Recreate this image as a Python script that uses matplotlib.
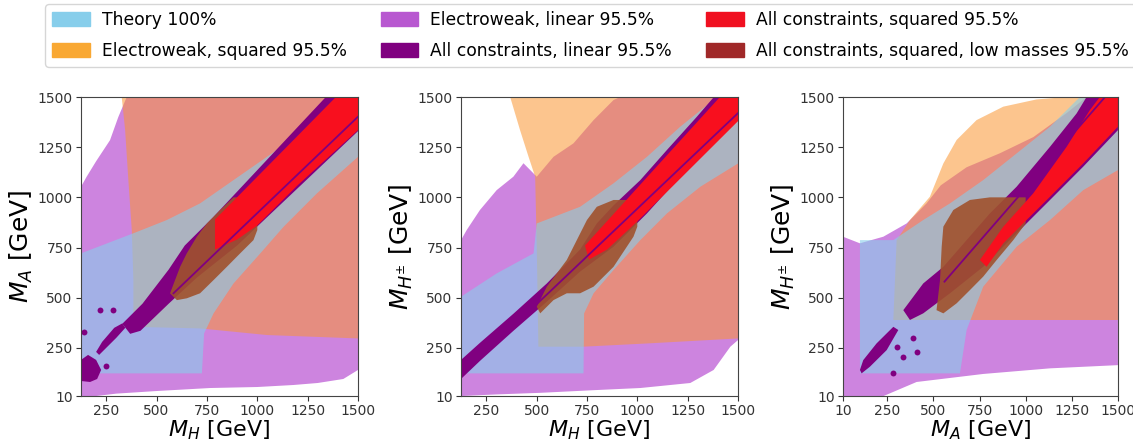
import matplotlib
matplotlib.use('Agg')
import matplotlib.pyplot as plt
from matplotlib.patches import Patch

# region outlines (GeV, GeV)
# panel 1: M_H vs M_A
p1_ew_linear = [(125, 10), (200, 10), (300, 22), (500, 35), (766, 50), (1000, 55), (1179, 65),
                (1300, 75), (1427, 95), (1500, 140), (1500, 1500), (352, 1500), (310, 1400),
                (269, 1285), (200, 1180), (153, 1103), (125, 1053)]
p1_ew_squared = [(327, 1500), (344, 1335), (360, 1086), (377, 837), (385, 588), (385, 355),
                 (716, 347), (1048, 314), (1500, 297), (1500, 1500)]
p1_theory = [(125, 123), (725, 123), (736, 322), (783, 422), (882, 571), (1015, 721), (1131, 854),
             (1296, 1020), (1500, 1202), (1500, 1500), (1429, 1500), (1379, 1452), (1213, 1319),
             (1048, 1202), (882, 1086), (716, 970), (551, 887), (385, 821), (125, 721)]
p1_all_linear = [(330, 370), (430, 470), (560, 640), (640, 760), (780, 900), (1340, 1500),
                 (1500, 1500), (1500, 1330), (900, 760), (700, 600), (560, 470), (420, 335),
                 (369, 320)]
p1_all_linear_b1 = [(125, 85), (125, 190), (160, 215), (200, 190), (225, 140), (205, 95), (170, 80)]
p1_all_linear_b2 = [(200, 230), (230, 280), (290, 350), (330, 372), (345, 350), (300, 300),
                    (240, 240), (215, 215)]
p1_dots_x = [219, 286, 140, 250]
p1_dots_y = [438, 438, 330, 160]
p1_low_masses = [(567, 522), (617, 654), (650, 721), (700, 804), (750, 870), (816, 937),
                 (882, 1000), (1000, 1000), (1000, 837), (981, 787), (915, 721), (849, 654),
                 (783, 588), (716, 522), (650, 497), (601, 488)]
p1_all_squared = [(790, 740), (790, 890), (850, 950), (1390, 1500), (1500, 1500), (1500, 1335),
                  (1200, 1060), (1000, 860), (900, 790)]
p1_line = [(584, 522), (1500, 1402)]

# panel 2: M_H vs M_H+-
p2_ew_linear = [(125, 10), (300, 18), (518, 26), (800, 40), (1015, 50), (1263, 75), (1379, 140),
                (1462, 256), (1500, 289), (1500, 1500), (915, 1500), (882, 1485), (783, 1385),
                (683, 1269), (584, 1202), (501, 1103), (435, 1170), (385, 1103), (302, 1036),
                (219, 937), (153, 837), (125, 787)]
p2_ew_squared = [(369, 1500), (418, 1335), (460, 1203), (493, 1103), (501, 754), (509, 256),
                 (733, 256), (1048, 272), (1500, 297), (1500, 1500)]
p2_theory = [(125, 123), (733, 123), (736, 422), (783, 522), (882, 638), (1015, 787), (1147, 920),
             (1313, 1053), (1500, 1169), (1500, 1500), (1396, 1500), (1213, 1352), (1048, 1202),
             (882, 1070), (716, 953), (501, 870), (485, 721), (302, 621), (125, 505)]
p2_all_linear = [(125, 190), (219, 275), (385, 420), (551, 571), (716, 740), (799, 870),
                 (882, 960), (1015, 1086), (1147, 1236), (1296, 1402), (1380, 1500), (1500, 1500),
                 (1500, 1402), (1379, 1286), (1213, 1103), (1048, 920), (882, 754), (716, 630),
                 (551, 480), (385, 335), (219, 185), (125, 95)]
p2_low_masses = [(501, 455), (551, 555), (650, 688), (750, 887), (799, 953), (882, 987),
                 (1000, 987), (1000, 854), (981, 804), (882, 654), (783, 555), (716, 522),
                 (650, 522), (584, 488), (518, 422)]
p2_all_squared = [(740, 760), (1410, 1500), (1500, 1500), (1500, 1380), (1000, 880),
                  (850, 740), (760, 690)]
p2_line = [(125, 110), (1500, 1420)]

# panel 3: M_A vs M_H+-
p3_ew_linear = [(10, 10), (230, 10), (409, 80), (770, 120), (1132, 148), (1500, 164),
                (1500, 1500), (1330, 1500), (1222, 1420), (1041, 1300), (861, 1220), (680, 1150),
                (540, 1060), (463, 970), (355, 870), (229, 804), (102, 771), (10, 804)]
p3_ew_squared = [(283, 389), (680, 389), (1500, 389), (1500, 1500), (1222, 1500), (1059, 1488),
                 (879, 1452), (734, 1385), (626, 1286), (554, 1169), (481, 1003), (373, 887),
                 (301, 787)]
p3_theory = [(102, 123), (644, 123), (680, 339), (770, 555), (951, 754), (1132, 887),
             (1312, 1036), (1500, 1136), (1500, 1500), (1294, 1500), (1132, 1352), (951, 1219),
             (770, 1086), (590, 970), (445, 887), (283, 787), (102, 787)]
p3_all_linear = [(337, 438), (445, 571), (554, 654), (680, 787), (806, 920), (951, 1053),
                 (1132, 1252), (1276, 1418), (1330, 1500), (1500, 1500), (1500, 1335),
                 (1312, 1153), (1132, 987), (951, 821), (770, 654), (590, 522), (445, 422),
                 (373, 389)]
p3_all_linear_b1 = [(102, 140), (120, 189), (192, 272), (283, 355), (310, 339), (247, 239),
                    (156, 156), (111, 123)]
p3_dots_x = [301, 337, 283, 390, 410]
p3_dots_y = [256, 206, 123, 300, 230]
p3_low_masses = [(517, 438), (536, 588), (545, 754), (554, 854), (608, 937), (698, 987),
                 (806, 1000), (1000, 1000), (1000, 870), (933, 787), (843, 688), (770, 605),
                 (698, 538), (626, 472), (554, 422)]
p3_all_squared = [(752, 688), (879, 854), (1041, 1020), (1222, 1252), (1348, 1435), (1402, 1500),
                  (1500, 1500), (1500, 1352), (1312, 1169), (1132, 1003), (1005, 887), (879, 771),
                  (788, 654)]
p3_line = [(560, 580), (1430, 1500)]

yticks = [10, 250, 500, 750, 1000, 1250, 1500]
xticks_h = [250, 500, 750, 1000, 1250, 1500]
xticks_a = [10, 250, 500, 750, 1000, 1250, 1500]

c_theory = '#87ceeb'
c_ew_sq = '#fa9632'
c_ew_lin = '#ba55d3'
c_all_lin = '#800080'
c_all_sq = '#f80f1e'
c_low = '#a0522d'


def fill(ax, pts, **kw):
    xs = [p[0] for p in pts]
    ys = [p[1] for p in pts]
    ax.fill(xs, ys, lw=0, **kw)


def panel(ax, ewl, ews, th, alin, blobs, dx, dy, low, asq, line, xlim, xt, xlab, ylab):
    fill(ax, ewl, color=c_ew_lin, alpha=0.72)
    fill(ax, ews, color=c_ew_sq, alpha=0.55)
    fill(ax, th, color=c_theory, alpha=0.6)
    fill(ax, alin, color=c_all_lin)
    for b in blobs:
        fill(ax, b, color=c_all_lin)
    ax.scatter(dx, dy, s=18, color=c_all_lin, lw=0)
    fill(ax, low, color=c_low, alpha=0.9)
    fill(ax, asq, color=c_all_sq)
    ax.plot([line[0][0], line[1][0]], [line[0][1], line[1][1]], color=c_all_lin, lw=1.3)
    ax.set_xlim(xlim)
    ax.set_ylim(10, 1500)
    ax.set_xticks(xt)
    ax.set_yticks(yticks)
    ax.tick_params(labelsize=10, colors='#333333', pad=2.5)
    ax.set_xlabel(xlab, fontsize=16, labelpad=0)
    ax.set_ylabel(ylab, fontsize=18, labelpad=2)
    for s in ax.spines.values():
        s.set_color('#444444')


fig = plt.figure(figsize=(11.33, 4.43), dpi=100)
ax1 = fig.add_axes([0.0715, 0.106, 0.2445, 0.675])
ax2 = fig.add_axes([0.4069, 0.106, 0.2445, 0.675])
ax3 = fig.add_axes([0.744, 0.106, 0.2427, 0.675])

panel(ax1, p1_ew_linear, p1_ew_squared, p1_theory, p1_all_linear,
      [p1_all_linear_b1, p1_all_linear_b2], p1_dots_x, p1_dots_y, p1_low_masses, p1_all_squared,
      p1_line, (125, 1500), xticks_h, '$M_H$ [GeV]', '$M_A$ [GeV]')
panel(ax2, p2_ew_linear, p2_ew_squared, p2_theory, p2_all_linear, [], [], [],
      p2_low_masses, p2_all_squared,
      p2_line, (125, 1500), xticks_h, '$M_H$ [GeV]', '$M_{H^{\\pm}}$ [GeV]')
panel(ax3, p3_ew_linear, p3_ew_squared, p3_theory, p3_all_linear, [p3_all_linear_b1],
      p3_dots_x, p3_dots_y, p3_low_masses, p3_all_squared,
      p3_line, (10, 1500), xticks_a, '$M_A$ [GeV]', '$M_{H^{\\pm}}$ [GeV]')

handles = [Patch(color=c_theory, label='Theory 100%'),
           Patch(color='#f9a833', label='Electroweak, squared 95.5%'),
           Patch(color='#b858d0', label='Electroweak, linear 95.5%'),
           Patch(color=c_all_lin, label='All constraints, linear 95.5%'),
           Patch(color='#f01020', label='All constraints, squared 95.5%'),
           Patch(color='#a02828', label='All constraints, squared, low masses 95.5%')]
fig.legend(handles=handles, loc='upper left', bbox_to_anchor=(0.04, 0.99), ncol=3,
           fontsize=12.3, handlelength=2.2, handleheight=0.9, handletextpad=0.7,
           columnspacing=2.0, borderaxespad=0, labelspacing=0.75, borderpad=0.4)

fig.savefig('out.png', dpi=100)
